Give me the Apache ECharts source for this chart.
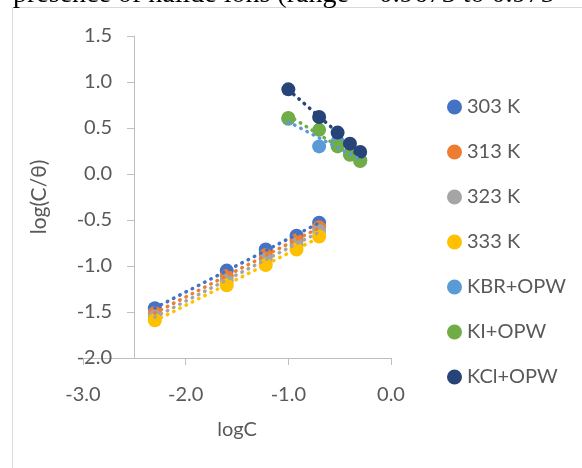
<!DOCTYPE html>
<html>
<head>
<meta charset="utf-8">
<script src="https://cdn.jsdelivr.net/npm/echarts@6/dist/echarts.min.js"></script>
<style>
  html, body { margin: 0; padding: 0; background: #fff; }
  #chart { width: 582px; height: 468px; }
</style>
</head>
<body>
<div id="chart"></div>
<script>
// Series names and colours
const seriesNames = ['303 K', '313 K', '323 K', '333 K', 'KBR+OPW', 'KI+OPW', 'KCl+OPW'];
const seriesColors = ['#4472C4', '#ED7D31', '#A5A5A5', '#FFC000', '#5B9BD5', '#70AD47', '#264478'];

// Temperature series: logC vs log(C/θ)
const logCTemp = [-2.30, -1.60, -1.22, -0.92, -0.70];
const y303 = [-1.46, -1.05, -0.82, -0.67, -0.53];
const y313 = [-1.51, -1.11, -0.88, -0.72, -0.58];
const y323 = [-1.55, -1.16, -0.93, -0.77, -0.62];
const y333 = [-1.59, -1.21, -0.99, -0.82, -0.68];

// Halide salt series
const logCSalt = [-1.00, -0.70, -0.52, -0.40, -0.30];
const yKBr = [0.60, 0.30, 0.35, 0.22, 0.15];
const yKI  = [0.61, 0.48, 0.30, 0.21, 0.14];
const yKCl = [0.92, 0.62, 0.45, 0.33, 0.24];

// Axis ranges
const xRange = [-3.0, 0.0, 1.0];
const yRange = [-2.0, 1.5, 0.5];

const headerText = 'presence of halide ions (range = 0.9673 to 0.975';

const xSets = [logCTemp, logCTemp, logCTemp, logCTemp, logCSalt, logCSalt, logCSalt];
const ySets = [y303, y313, y323, y333, yKBr, yKI, yKCl];

// Least-squares linear trendline across the data's x span
function trend(xs, ys) {
  const n = xs.length;
  const mx = xs.reduce((a, b) => a + b, 0) / n;
  const my = ys.reduce((a, b) => a + b, 0) / n;
  let sxy = 0, sxx = 0;
  for (let i = 0; i < n; i++) {
    sxy += (xs[i] - mx) * (ys[i] - my);
    sxx += (xs[i] - mx) * (xs[i] - mx);
  }
  const k = sxy / sxx;
  const x0 = Math.min(...xs), x1 = Math.max(...xs);
  return [[x0, my + k * (x0 - mx)], [x1, my + k * (x1 - mx)]];
}

const FONT = 'Lato';
const TXT = '#595959';
const AXIS = '#BFBFBF';

const series = [];
seriesNames.forEach((name, i) => {
  series.push({
    name: name,
    type: 'scatter',
    symbol: 'circle',
    symbolSize: 14,
    itemStyle: { color: seriesColors[i], opacity: 1 },
    data: xSets[i].map((x, j) => [x, ySets[i][j]]),
    z: 2
  });
});
seriesNames.forEach((name, i) => {
  series.push({
    name: name + ' trend',
    type: 'line',
    showSymbol: false,
    symbol: 'none',
    silent: true,
    lineStyle: { color: seriesColors[i], width: 3.5, type: [0.5, 6.5], cap: 'round' },
    data: trend(xSets[i], ySets[i]),
    z: 5
  });
});

const chart = echarts.init(document.getElementById('chart'), null, { renderer: 'canvas' });
chart.setOption({
  animation: false,
  backgroundColor: '#fff',
  textStyle: { fontFamily: FONT },
  grid: { left: 83, right: 191, top: 36, bottom: 110, containLabel: false },
  graphic: [
    {
      type: 'rect',
      z: -10,
      shape: { x: 12.5, y: 7.5, width: 620, height: 520 },
      style: { fill: 'none', stroke: '#D9D9D9', lineWidth: 1 }
    },
    {
      type: 'text',
      x: 13,
      y: 9,
      style: {
        text: headerText,
        fontFamily: '"Liberation Serif", "Times New Roman", serif',
        fontSize: 28,
        fill: '#000',
        verticalAlign: 'bottom'
      }
    }
  ],
  legend: {
    orient: 'vertical',
    left: 442,
    top: 92,
    itemWidth: 15,
    itemHeight: 15,
    itemGap: 25,
    icon: 'circle',
    data: seriesNames,
    textStyle: { fontSize: 20, color: TXT, fontFamily: FONT }
  },
  xAxis: {
    type: 'value',
    min: xRange[0],
    max: xRange[1],
    interval: xRange[2],
    name: 'logC',
    nameLocation: 'middle',
    nameGap: 62,
    nameTextStyle: { fontSize: 20, color: TXT, fontFamily: FONT },
    axisLine: { show: true, onZero: false, lineStyle: { color: AXIS, width: 1 } },
    axisTick: { show: true, length: 7, lineStyle: { color: AXIS } },
    splitLine: { show: false },
    axisLabel: {
      fontSize: 20, color: TXT, fontFamily: FONT, margin: 27,
      formatter: v => v.toFixed(1)
    }
  },
  yAxis: {
    type: 'value',
    min: yRange[0],
    max: yRange[1],
    interval: yRange[2],
    offset: -51,
    name: 'log(C/θ)',
    nameLocation: 'middle',
    nameGap: 84,
    nameRotate: 90,
    nameTextStyle: { fontSize: 21, color: TXT, fontFamily: FONT },
    axisLine: { show: true, onZero: false, lineStyle: { color: AXIS, width: 1 } },
    axisTick: { show: true, length: 7, lineStyle: { color: AXIS } },
    splitLine: { show: false },
    axisLabel: {
      fontSize: 20, color: TXT, fontFamily: FONT, margin: 22,
      formatter: v => v.toFixed(1)
    }
  },
  series: series
});
</script>
</body>
</html>
